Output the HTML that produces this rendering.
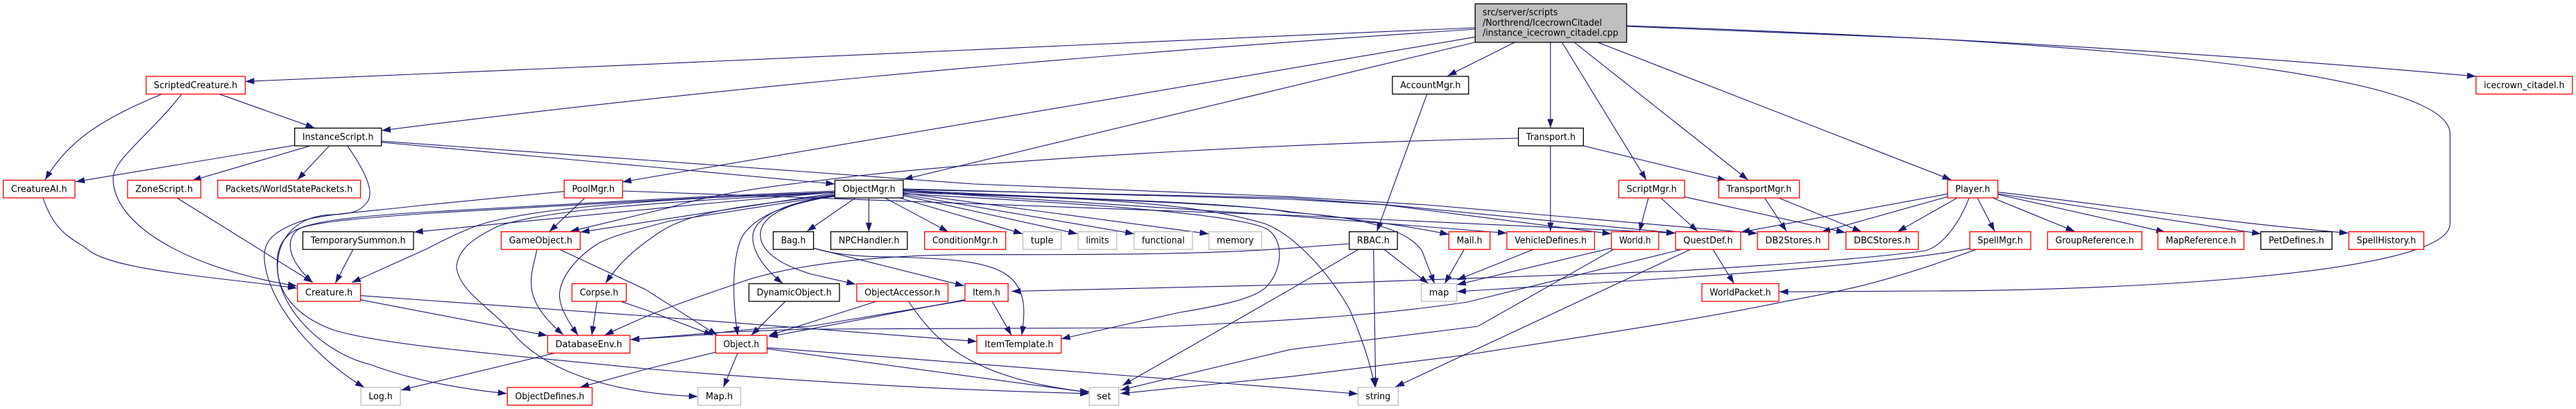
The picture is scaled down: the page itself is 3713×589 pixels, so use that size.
<!DOCTYPE html>
<html><head><meta charset="utf-8"><style>
html,body{margin:0;padding:0;background:#fff}
svg{display:block}
text{font-family:"DejaVu Sans",sans-serif;font-size:13px;fill:#000;text-anchor:middle}
.r{fill:#fff;stroke:#f00;stroke-width:1.3}
.k{fill:#fff;stroke:#000;stroke-width:1.3}
.g{fill:#fff;stroke:#bfbfbf;stroke-width:1.3}
</style></head><body>
<svg xmlns="http://www.w3.org/2000/svg" width="3713" height="589" viewBox="0 0 3713 589">
<defs><marker id="a" markerUnits="userSpaceOnUse" markerWidth="14" markerHeight="10" refX="13" refY="4.5" orient="auto"><path d="M0 0L13 4.5L0 9z" fill="#191970"/></marker></defs>
<g fill="none" stroke="#191970" stroke-width="1.1" marker-end="url(#a)">
<!-- root -->
<path d="M2126 40L1860 51.3L930 92.7L353.5 117.3"/>
<path d="M2126 42C1800 64 1200 105 550 188"/>
<path d="M2126 61L1302.5 258.3"/>
<path d="M2126 53.3L897 262"/>
<path d="M2183.2 61L2086.6 109.3"/>
<path d="M2234.8 61L2234.8 184.3"/>
<path d="M2251.5 61L2373 259"/>
<path d="M2269.2 61L2519.5 259"/>
<path d="M2303 61L2812.7 259"/>
<path d="M2344.6 37C2800 53 3200 77 3568.9 110"/>
<path d="M2344.6 38L2783 55.7C3100 75 3531.5 110 3531.5 193L3531.5 322C3531.5 400 3000 419 2783 419L2564.6 420.3"/>
<!-- ScriptedCreature -->
<path d="M315.5 135.3L453.6 184.3"/>
<path d="M234 135.3C150 170 100 200 65 259"/>
<path d="M262 135.3C215 195 163 230 163 257C163 320 260 385 428 412"/>
<!-- CreatureAI / ZoneScript -->
<path d="M62 285C80 340 110 345 130 362C170 390 320 400 428 415"/>
<path d="M255 285L450.7 406.7"/>
<!-- InstanceScript -->
<path d="M424.6 209.3L109 261.7"/>
<path d="M446 210.3L277 260"/>
<path d="M474.4 210.3L428.7 259"/>
<path d="M501 210.3C525 245 540 275 530 290C520 305 505 308 480 309C430 310 400 340 400 385C400 420 425 455 480 475C550 497 720 510 930 531C1200 553 1400 563 1570 566.7"/>
<path d="M550 205L930 239.5L1203.4 265"/>
<path d="M550 203.3L930 230.5L1404 265L1860 283.3L2055.7 295L2533 336"/>
<!-- PoolMgr -->
<path d="M813 275.7L605 296C540 304 460 308 430 320C390 335 380 350 381 372C385 440 460 520 525 557.7"/>
<path d="M843.3 284.7L791.7 333.7"/>
<path d="M897 275L1860 310L2415 335.7"/>
<!-- ObjectMgr left -->
<path d="M1203 276.5L1020 284.5L620 307C520 314 450 320 430 330C410 345 415 375 450.7 406.7"/>
<path d="M1203 275L1020 283L620 305C500 312 440 320 420 335C400 350 398 370 400 390C405 450 470 510 534 525C600 550 680 562 730.7 566.7"/>
<path d="M1203 276.7L1020 293L596.7 334.3"/>
<path d="M1203 278L836.7 334.3"/>
<path d="M1203 277L1020 285C900 292 790 300 717 317C690 322 660 335 616 358L507 407"/>
<path d="M1203 280C1100 295 1000 300 950 335C920 355 895 375 873 407.7"/>
<path d="M1203 281L966.7 318C920 330 880 340 860 352C825 375 805 405 806.6 428C808 445 820 465 833.3 482.7"/>
<path d="M1203 277L1020 288C900 296 780 305 717 326C690 340 660 355 658 385C662 420 710 445 741 482C775 520 850 565 1005.9 571"/>
<path d="M1203 282C1130 295 1090 310 1070 340C1055 370 1055 430 1063.4 483.3"/>
<path d="M1203 282C1140 290 1085 310 1085 342C1085 365 1105 390 1128.3 408.3"/>
<path d="M1203 283C1140 290 1096 310 1096 338C1096 360 1120 380 1170 395L1233.3 409.3"/>
<!-- ObjectMgr bottom -->
<path d="M1233.3 284.7L1163.3 333"/>
<path d="M1252.3 284.7L1252.3 333.7"/>
<path d="M1275 284.7L1366.7 333.7"/>
<path d="M1296.7 285L1474 336.7"/>
<path d="M1301.7 281.7L1553 336.7"/>
<path d="M1301.7 280L1635 336.7"/>
<path d="M1301.7 278L1742.3 336.7"/>
<!-- ObjectMgr right -->
<path d="M1302 272L1860 287L1996 295L2322.6 336.7"/>
<path d="M1302 273L1860 285L2000 295L2415 335.7"/>
<path d="M1302 274C1600 288 1800 295 1860 305C1950 315 2030 325 2088.4 337.7"/>
<path d="M1302 275L1860 311L2172 335.7"/>
<path d="M1302 275C1500 285 1780 290 1860 306C1960 312 2030 330 2050 362L2067.6 408.3"/>
<path d="M1302 277C1500 285 1700 285 1823 322C1870 340 1920 400 1945 445C1960 480 1975 520 1981.6 557"/>
<path d="M1302 279C1500 290 1780 305 1826.7 330C1850 345 1850 385 1826.7 411.7C1810 430 1760 440 1700 450L1529.6 488"/>
<!-- Transport -->
<path d="M2188.6 199C1900 205 1500 225 1238 253C1140 265 1040 275 965 299L821.7 333.3"/>
<path d="M2234.8 210.3L2234.8 333.3"/>
<path d="M2282.3 210L2488.7 260"/>
<!-- AccountMgr / RBAC -->
<path d="M2056.9 135.3L1984.6 333.3"/>
<path d="M1995.2 359.3L2058.7 408.3"/>
<path d="M1979.8 359.3L1982.8 557.3"/>
<path d="M1957.9 359.3L1860 416.7L1618 555"/>
<path d="M1944.8 351L1860 357.3C1750 366 1600 367 1404.5 366.7C1300 367 1150 375 1057.5 410C1000 430 950 445 871.6 482.7"/>
<!-- ScriptMgr / TransportMgr -->
<path d="M2376 285L2363 333.3"/>
<path d="M2393.8 285L2447 333.3"/>
<path d="M2427.3 283.3L2660 335"/>
<path d="M2543.3 284.7L2575 333"/>
<path d="M2563.3 284.7L2683.3 333.7"/>
<!-- Player -->
<path d="M2807.3 279.3L2509.3 334.3"/>
<path d="M2807.3 283.3L2625 334.3"/>
<path d="M2821.7 284.7L2735 333.7"/>
<path d="M2850 284.7L2875 333"/>
<path d="M2871.7 284.7L2990.6 333.3"/>
<path d="M2879.7 280L3121 334.3"/>
<path d="M2879.7 279L3259 336.7"/>
<path d="M2879.7 276.7C3000 290 3200 320 3385 335.7"/>
<path d="M2838.3 284.7C2825 320 2800 355 2775 361C2700 372 2550 382 2420 390L1860 410L1458 419.5"/>
<!-- SpellMgr -->
<path d="M2839.3 357.7C2770 372 2600 388 2420 400L2100 420"/>
<path d="M2848.3 359.3L2790 380C2700 410 2650 420 2576.7 433.3C2450 460 2280 485 2109 511.7L1860 542.3L1615 566.7"/>
<!-- Mail, Vehicle, World, QuestDef -->
<path d="M2110.3 359.3L2082.4 408.3"/>
<path d="M2210 359.3L2100 403.3"/>
<path d="M2322.6 357.3L2100 410"/>
<path d="M2325.6 359.3L2130 470L1860 503.3L1615 561.7"/>
<path d="M2423.5 359.3L2115 435C2000 452 1900 460 1641.6 472C1400 473 1250 474 1167 474C1100 476 1050 478 1019 480L908.6 489"/>
<path d="M2436.5 359.3L2011.2 557.3"/>
<path d="M2469 359.3L2499.4 408.3"/>
<!-- Temporary, Creature, GameObject, Corpse -->
<path d="M508.9 359.3L483.4 407.7"/>
<path d="M519.6 431.7L788.9 483.3"/>
<path d="M519.6 425.7L930 455L1408 491.7"/>
<path d="M774 359.3C765 400 750 430 812 482"/>
<path d="M806.6 359.3L930 416.7L1033.8 482.7"/>
<path d="M860.6 434.3L852.9 482.7"/>
<path d="M895.5 434.3L930 446L1027.8 482.7"/>
<path d="M800.7 508.3L578.3 561.7"/>
<!-- Object etc -->
<path d="M1063.4 508.3L1042.7 557.7"/>
<path d="M1106 502.3L1555.5 563.3L1570 564"/>
<path d="M1106 500.7L1860 559.3L1957.3 567.3"/>
<path d="M1031 507.3L930 532L836 557.7"/>
<path d="M1263.3 434L1108 483.3"/>
<path d="M1309.5 434C1340 480 1370 505 1404.5 521.7C1450 545 1510 558 1570 565"/>
<path d="M1131.7 434.3L1083 482.7"/>
<path d="M1391 431.7L1108 485"/>
<path d="M1391 432.7L1167 470C1090 472 1040 478 1019 482L908.6 489"/>
<path d="M1430 434L1457.9 482.7"/>
<path d="M1172.6 357.3L1389.7 411.7"/>
<path d="M1172.6 357.3C1200 366 1240 370 1285.9 370C1360 372 1420 375 1450 395C1480 415 1478 450 1472.7 482.7"/>
</g>
<!-- nodes -->
<rect x="2126.3" y="5.5" width="218.3" height="55.5" fill="#bfbfbf" stroke="#000" stroke-width="1.3"/>
<text x="2137" y="22" textLength="108.5" lengthAdjust="spacingAndGlyphs" style="text-anchor:start">src/server/scripts</text>
<text x="2137" y="37" textLength="172" lengthAdjust="spacingAndGlyphs" style="text-anchor:start">/Northrend/IcecrownCitadel</text>
<text x="2137" y="51.5" textLength="195.7" lengthAdjust="spacingAndGlyphs" style="text-anchor:start">/instance_icecrown_citadel.cpp</text>
<rect class="r" x="210.6" y="110" width="142.9" height="25.5"/><text x="282" y="127" textLength="120.4" lengthAdjust="spacingAndGlyphs">ScriptedCreature.h</text>
<rect class="k" x="2007" y="110" width="109.8" height="25.5"/><text x="2061.9" y="127" textLength="87.3" lengthAdjust="spacingAndGlyphs">AccountMgr.h</text>
<rect class="r" x="3568.9" y="110" width="138.8" height="25.5"/><text x="3638.3" y="127" textLength="116.3" lengthAdjust="spacingAndGlyphs">icecrown_citadel.h</text>
<rect class="k" x="424.7" y="184.5" width="125.1" height="25.5"/><text x="487.2" y="201.5" textLength="102.6" lengthAdjust="spacingAndGlyphs">InstanceScript.h</text>
<rect class="k" x="2188.6" y="184.5" width="93.7" height="25.5"/><text x="2235.4" y="201.5" textLength="71.2" lengthAdjust="spacingAndGlyphs">Transport.h</text>
<rect class="r" x="4.7" y="259.5" width="103.3" height="25.5"/><text x="56.3" y="276.5" textLength="80.8" lengthAdjust="spacingAndGlyphs">CreatureAI.h</text>
<rect class="r" x="183.9" y="259.5" width="105.5" height="25.5"/><text x="236.6" y="276.5" textLength="83" lengthAdjust="spacingAndGlyphs">ZoneScript.h</text>
<rect class="r" x="313.8" y="259.5" width="205.8" height="25.5"/><text x="416.7" y="276.5" textLength="183.3" lengthAdjust="spacingAndGlyphs">Packets/WorldStatePackets.h</text>
<rect class="r" x="813.2" y="259.5" width="84.2" height="25.5"/><text x="855.3" y="276.5" textLength="61.7" lengthAdjust="spacingAndGlyphs">PoolMgr.h</text>
<rect class="k" x="1203.4" y="259.5" width="98.5" height="25.5"/><text x="1252.6" y="276.5" textLength="76" lengthAdjust="spacingAndGlyphs">ObjectMgr.h</text>
<rect class="r" x="2333.3" y="259.5" width="94.9" height="25.5"/><text x="2380.7" y="276.5" textLength="72.4" lengthAdjust="spacingAndGlyphs">ScriptMgr.h</text>
<rect class="r" x="2477.4" y="259.5" width="116.3" height="25.5"/><text x="2535.5" y="276.5" textLength="93.8" lengthAdjust="spacingAndGlyphs">TransportMgr.h</text>
<rect class="r" x="2807.3" y="259.5" width="72.4" height="25.5"/><text x="2843.5" y="276.5" textLength="49.9" lengthAdjust="spacingAndGlyphs">Player.h</text>
<rect class="k" x="436.5" y="333.7" width="159.5" height="25.5"/><text x="516.2" y="350.7" textLength="137" lengthAdjust="spacingAndGlyphs">TemporarySummon.h</text>
<rect class="r" x="722.4" y="333.7" width="113.9" height="25.5"/><text x="779.3" y="350.7" textLength="91.4" lengthAdjust="spacingAndGlyphs">GameObject.h</text>
<rect class="k" x="1114.5" y="333.7" width="58.1" height="25.5"/><text x="1143.5" y="350.7" textLength="35.6" lengthAdjust="spacingAndGlyphs">Bag.h</text>
<rect class="k" x="1197.5" y="333.7" width="110.3" height="25.5"/><text x="1252.6" y="350.7" textLength="87.8" lengthAdjust="spacingAndGlyphs">NPCHandler.h</text>
<rect class="r" x="1332.7" y="333.7" width="116.9" height="25.5"/><text x="1391.1" y="350.7" textLength="94.4" lengthAdjust="spacingAndGlyphs">ConditionMgr.h</text>
<rect class="g" x="1474.5" y="333.7" width="55.1" height="25.5"/><text x="1502" y="350.7" textLength="32.6" lengthAdjust="spacingAndGlyphs">tuple</text>
<rect class="g" x="1554" y="333.7" width="55.7" height="25.5"/><text x="1581.8" y="350.7" textLength="33.2" lengthAdjust="spacingAndGlyphs">limits</text>
<rect class="g" x="1634.6" y="333.7" width="84.3" height="25.5"/><text x="1676.7" y="350.7" textLength="61.8" lengthAdjust="spacingAndGlyphs">functional</text>
<rect class="g" x="1742.6" y="333.7" width="75.9" height="25.5"/><text x="1780.5" y="350.7" textLength="53.4" lengthAdjust="spacingAndGlyphs">memory</text>
<rect class="k" x="1944.8" y="333.7" width="69.4" height="25.5"/><text x="1979.5" y="350.7" textLength="46.9" lengthAdjust="spacingAndGlyphs">RBAC.h</text>
<rect class="r" x="2088.4" y="333.7" width="59.3" height="25.5"/><text x="2118" y="350.7" textLength="36.8" lengthAdjust="spacingAndGlyphs">Mail.h</text>
<rect class="r" x="2172" y="333.7" width="126.3" height="25.5"/><text x="2235.1" y="350.7" textLength="103.8" lengthAdjust="spacingAndGlyphs">VehicleDefines.h</text>
<rect class="r" x="2322.6" y="333.7" width="68.2" height="25.5"/><text x="2356.7" y="350.7" textLength="45.7" lengthAdjust="spacingAndGlyphs">World.h</text>
<rect class="r" x="2415.2" y="333.7" width="93.7" height="25.5"/><text x="2462" y="350.7" textLength="71.2" lengthAdjust="spacingAndGlyphs">QuestDef.h</text>
<rect class="r" x="2533.2" y="333.7" width="102.6" height="25.5"/><text x="2584.5" y="350.7" textLength="80.1" lengthAdjust="spacingAndGlyphs">DB2Stores.h</text>
<rect class="r" x="2660.7" y="333.7" width="104.4" height="25.5"/><text x="2712.9" y="350.7" textLength="81.9" lengthAdjust="spacingAndGlyphs">DBCStores.h</text>
<rect class="r" x="2839.3" y="333.7" width="87.8" height="25.5"/><text x="2883.2" y="350.7" textLength="65.3" lengthAdjust="spacingAndGlyphs">SpellMgr.h</text>
<rect class="r" x="2951.4" y="333.7" width="135.9" height="25.5"/><text x="3019.3" y="350.7" textLength="113.4" lengthAdjust="spacingAndGlyphs">GroupReference.h</text>
<rect class="r" x="3110.4" y="333.7" width="124" height="25.5"/><text x="3172.4" y="350.7" textLength="101.5" lengthAdjust="spacingAndGlyphs">MapReference.h</text>
<rect class="k" x="3258.7" y="333.7" width="102.6" height="25.5"/><text x="3310" y="350.7" textLength="80.1" lengthAdjust="spacingAndGlyphs">PetDefines.h</text>
<rect class="r" x="3385.6" y="333.7" width="108" height="25.5"/><text x="3439.6" y="350.7" textLength="85.5" lengthAdjust="spacingAndGlyphs">SpellHistory.h</text>
<rect class="r" x="428.8" y="408.5" width="90.8" height="25.5"/><text x="474.2" y="425.5" textLength="68.3" lengthAdjust="spacingAndGlyphs">Creature.h</text>
<rect class="r" x="824.4" y="408.5" width="78.3" height="25.5"/><text x="863.5" y="425.5" textLength="55.8" lengthAdjust="spacingAndGlyphs">Corpse.h</text>
<rect class="k" x="1079.5" y="408.5" width="130.5" height="25.5"/><text x="1144.7" y="425.5" textLength="108" lengthAdjust="spacingAndGlyphs">DynamicObject.h</text>
<rect class="r" x="1234.9" y="408.5" width="131.6" height="25.5"/><text x="1300.7" y="425.5" textLength="109.1" lengthAdjust="spacingAndGlyphs">ObjectAccessor.h</text>
<rect class="r" x="1390.9" y="408.5" width="62.2" height="25.5"/><text x="1422" y="425.5" textLength="39.7" lengthAdjust="spacingAndGlyphs">Item.h</text>
<rect class="g" x="2048.6" y="408.5" width="51" height="25.5"/><text x="2074.1" y="425.5" textLength="28.5" lengthAdjust="spacingAndGlyphs">map</text>
<rect class="r" x="2453.1" y="408.5" width="110.9" height="25.5"/><text x="2508.5" y="425.5" textLength="88.4" lengthAdjust="spacingAndGlyphs">WorldPacket.h</text>
<rect class="r" x="789.4" y="483" width="118.6" height="25.5"/><text x="848.7" y="500" textLength="96.1" lengthAdjust="spacingAndGlyphs">DatabaseEnv.h</text>
<rect class="r" x="1031.4" y="483" width="74.2" height="25.5"/><text x="1068.5" y="500" textLength="51.7" lengthAdjust="spacingAndGlyphs">Object.h</text>
<rect class="r" x="1408" y="483" width="121.6" height="25.5"/><text x="1468.8" y="500" textLength="99.1" lengthAdjust="spacingAndGlyphs">ItemTemplate.h</text>
<rect class="g" x="520.2" y="558" width="56.9" height="25.5"/><text x="548.6" y="575" textLength="34.4" lengthAdjust="spacingAndGlyphs">Log.h</text>
<rect class="r" x="731.3" y="558" width="122.2" height="25.5"/><text x="792.4" y="575" textLength="99.7" lengthAdjust="spacingAndGlyphs">ObjectDefines.h</text>
<rect class="g" x="1005.9" y="558" width="61.7" height="25.5"/><text x="1036.7" y="575" textLength="39.2" lengthAdjust="spacingAndGlyphs">Map.h</text>
<rect class="g" x="1570" y="558" width="42.7" height="25.5"/><text x="1591.3" y="575" textLength="20.2" lengthAdjust="spacingAndGlyphs">set</text>
<rect class="g" x="1957.3" y="558" width="58.1" height="25.5"/><text x="1986.3" y="575" textLength="35.6" lengthAdjust="spacingAndGlyphs">string</text>
</svg>
</body></html>
